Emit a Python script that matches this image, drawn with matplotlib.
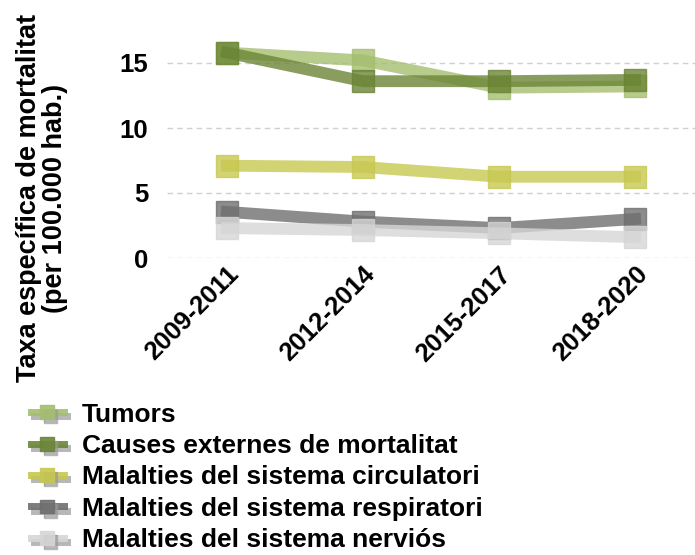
import matplotlib
matplotlib.use("Agg")
import matplotlib.pyplot as plt
import matplotlib.patheffects as pe
from matplotlib.lines import Line2D

plt.rcParams['font.family'] = ['Liberation Sans', 'DejaVu Sans']
plt.rcParams['font.weight'] = 'bold'

periodes = ["2009-2011", "2012-2014", "2015-2017", "2018-2020"]

tumors = [15.8, 15.2, 13.1, 13.2]
causes_externes = [15.8, 13.6, 13.6, 13.7]
circulatori = [7.1, 7.0, 6.25, 6.25]
respiratori = [3.55, 2.8, 2.3, 3.0]
nervios = [2.3, 2.15, 1.9, 1.6]

noms = ["Tumors", "Causes externes de mortalitat",
        "Malalties del sistema circulatori",
        "Malalties del sistema respiratori",
        "Malalties del sistema nerviós"]
colors = ["#a5be6f", "#6b8536", "#c7c850", "#6f6f6f", "#d6d6d6"]
series = [tumors, causes_externes, circulatori, respiratori, nervios]

fig = plt.figure(figsize=(6.95, 5.55), dpi=100)
ax = fig.add_axes([167 / 695, 1 - 258 / 555, 1 - 167 / 695, 234 / 555])

x = range(len(periodes))
for vals, col in zip(series, colors):
    ax.plot(x, vals, color=col, lw=8.5, marker="s", ms=16.5,
            alpha=0.8, solid_joinstyle="miter")

ax.set_xlim(-0.44, 3.44)
ax.set_ylim(0, 18)
ax.set_yticks([0, 5, 10, 15])
ax.set_xticks(list(x))
ax.set_xticklabels(periodes, rotation=45, ha="right", rotation_mode="anchor")
ax.tick_params(length=0, labelsize=18.5)
ax.tick_params(axis="y", pad=13.5)
ax.tick_params(axis="x", pad=3)
ax.grid(axis="y", color="#d0d0d0", ls=(0, (4, 3)), lw=1)
ax.set_axisbelow(True)
for s in ax.spines.values():
    s.set_visible(False)

fig.text(42 / 695, 1 - 198 / 555,
         "Taxa específica de mortalitat\n(per 100.000 hab.)",
         rotation=90, ha="center", va="center", multialignment="center",
         fontsize=19.5, fontweight="bold", linespacing=0.95)

# legend proxies with a small grey drop shadow
shadow = [pe.SimpleLineShadow(offset=(2.5, -3), shadow_color="#999999", alpha=0.7),
          pe.SimplePatchShadow(offset=(2.5, -3), shadow_rgbFace="#999999", alpha=0.7),
          pe.Normal()]
handles = []
for col in colors:
    h = Line2D([], [], color=col, lw=5, marker="s", ms=10, alpha=0.9,
               path_effects=shadow)
    handles.append(h)
leg = fig.legend(handles, noms, loc="upper left",
                 bbox_to_anchor=(20 / 695, 1 - 392 / 555),
                 frameon=False, fontsize=19, handlelength=1.25,
                 handletextpad=0.7, labelspacing=0.28, borderaxespad=0)

fig.savefig("out.png", dpi=100)
